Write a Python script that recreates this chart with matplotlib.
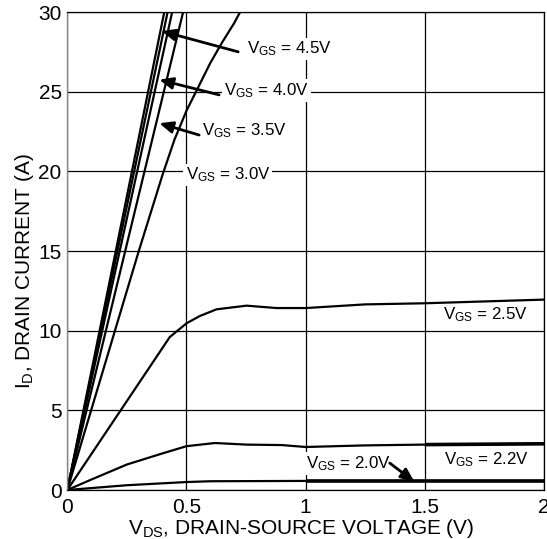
import matplotlib
matplotlib.use("Agg")
import matplotlib.pyplot as plt

plt.rcParams['font.family'] = ['Liberation Sans', 'DejaVu Sans']
plt.rcParams['mathtext.fontset'] = 'custom'
plt.rcParams['mathtext.rm'] = 'Liberation Sans'
plt.rcParams['mathtext.it'] = 'Liberation Sans:italic'
plt.rcParams['mathtext.bf'] = 'Liberation Sans:bold'

# ---- data ----
# steep (linear-region) curves: V_DS where each reaches 30 A
vds_steep_top = [0.407, 0.421, 0.440, 0.486]
id_steep_top = [30, 30, 30, 30]

vds_30 = [0.0, 0.20, 0.30, 0.40, 0.45, 0.50, 0.55, 0.60, 0.65, 0.70, 0.725]
id_30 = [0.0, 10.0, 15.0, 19.8, 22.0, 23.8, 25.3, 26.8, 28.1, 29.3, 30.0]

vds_25 = [0.0, 0.43, 0.50, 0.556, 0.626, 0.752, 0.878, 1.0, 1.25, 1.5, 2.0]
id_25 = [0.0, 9.6, 10.46, 10.92, 11.34, 11.57, 11.42, 11.42, 11.65, 11.72, 11.95]

vds_22 = [0.0, 0.1, 0.25, 0.4, 0.5, 0.62, 0.75, 0.9, 1.0, 1.25, 1.5, 2.0]
id_22 = [0.0, 0.65, 1.6, 2.3, 2.75, 2.95, 2.85, 2.82, 2.7, 2.8, 2.85, 2.9]

vds_20 = [0.0, 0.1, 0.25, 0.5, 0.6, 1.0, 2.0]
id_20 = [0.0, 0.12, 0.3, 0.5, 0.55, 0.57, 0.57]

x_ticks = [0, 0.5, 1, 1.5, 2]
x_ticklabels = ['0', '0.5', '1', '1.5', '2']
y_ticks = [0, 5, 10, 15, 20, 25, 30]
y_ticklabels = ['0', '5', '10', '15', '20', '25', '30']

labels = {
    '4.5': 'V$_{\\mathrm{GS}}$ = 4.5V',
    '4.0': 'V$_{\\mathrm{GS}}$ = 4.0V',
    '3.5': 'V$_{\\mathrm{GS}}$ = 3.5V',
    '3.0': 'V$_{\\mathrm{GS}}$ = 3.0V',
    '2.5': 'V$_{\\mathrm{GS}}$ = 2.5V',
    '2.2': 'V$_{\\mathrm{GS}}$ = 2.2V',
    '2.0': 'V$_{\\mathrm{GS}}$ = 2.0V',
}

# ---- figure ----
fig = plt.figure(figsize=(5.47, 5.39), dpi=100)
ax = fig.add_axes([0.123, 0.0909, 0.8715, 0.8868])
ax.set_xlim(0, 2)
ax.set_ylim(0, 30)

ax.grid(True, color='black', lw=0.9)
ax.set_axisbelow(True)
for s in ['top', 'right', 'bottom']:
    ax.spines[s].set_color('black')
    ax.spines[s].set_linewidth(0.9)
ax.spines['left'].set_color('#888888')
ax.spines['left'].set_linewidth(1.0)

lw = 1.6
for vt, it in zip(vds_steep_top, id_steep_top):
    ax.plot([0, vt], [0, it], color='black', lw=lw, solid_capstyle='butt')
ax.plot(vds_30, id_30, color='black', lw=lw)
ax.plot(vds_25, id_25, color='black', lw=lw)
ax.plot(vds_22, id_22, color='black', lw=lw)
ax.plot(vds_20, id_20, color='black', lw=lw)
# thicker tails as in the reference
ax.plot([v for v in vds_22 if v >= 1.5], [i for v, i in zip(vds_22, id_22) if v >= 1.5],
        color='black', lw=2.6, solid_capstyle='butt')
ax.plot([v for v in vds_20 if v >= 1.0], [i for v, i in zip(vds_20, id_20) if v >= 1.0],
        color='black', lw=2.6, solid_capstyle='butt')

ax.set_xticks(x_ticks)
ax.set_xticklabels(x_ticklabels)
ax.set_yticks(y_ticks)
ax.set_yticklabels(y_ticklabels)
ax.tick_params(length=0, labelsize=15)
ax.tick_params(axis='x', pad=6)
ax.tick_params(axis='y', pad=4)

ax.set_xlabel('V$_{\\mathrm{DS}}$, DRAIN-SOURCE VOLTAGE (V)', fontsize=15)
ax.xaxis.set_label_coords(0.49, -0.081)
ax.xaxis.label.set_va('center')
ax.set_ylabel('I$_{\\mathrm{D}}$, DRAIN CURRENT (A)', fontsize=15)
ax.yaxis.set_label_coords(-0.089, 0.457)
ax.yaxis.label.set_va('center')

box = dict(facecolor='white', edgecolor='none', pad=1.5)
tfs = 12.2
ax.text(0.753, 27.68, labels['4.5'], fontsize=tfs, ha='left', va='center', bbox=box)
ax.text(0.657, 25.07, labels['4.0'], fontsize=tfs, ha='left', va='center', bbox=box)
ax.text(0.566, 22.56, labels['3.5'], fontsize=tfs, ha='left', va='center', bbox=box)
ax.text(0.496, 19.77, labels['3.0'], fontsize=tfs, ha='left', va='center', bbox=box)
ax.text(1.576, 10.99, labels['2.5'], fontsize=tfs, ha='left', va='center', bbox=box)
ax.text(1.582, 1.88, labels['2.2'], fontsize=tfs, ha='left', va='center', bbox=box)
ax.text(1.003, 1.66, labels['2.0'], fontsize=tfs, ha='left', va='center', bbox=box)

arrow = dict(arrowstyle='-|>,head_length=0.8,head_width=0.35', color='black', lw=2.0,
             shrinkA=0, shrinkB=0)
ax.annotate('', xy=(0.396, 28.8), xytext=(0.717, 27.5), arrowprops=arrow)
ax.annotate('', xy=(0.386, 25.75), xytext=(0.637, 24.8), arrowprops=arrow)
ax.annotate('', xy=(0.386, 23.02), xytext=(0.553, 22.28), arrowprops=arrow)
ax.annotate('', xy=(1.456, 0.52), xytext=(1.353, 1.69), arrowprops=arrow)

fig.savefig('out.png', dpi=100)
